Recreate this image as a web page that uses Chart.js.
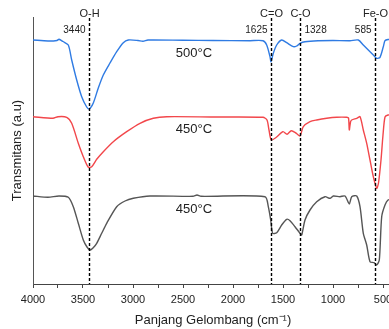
<!DOCTYPE html>
<html>
<head>
    <title>FTIR Spectra</title>
    <script src="https://cdn.jsdelivr.net/npm/chart.js"></script>
    <style>
        body { margin: 0; overflow: hidden; background: #fff; }
        #wrap { width: 400px; height: 329px; }
    </style>
</head>
<body>
    <div id="wrap"><canvas id="ftirChart" width="400" height="329"></canvas></div>
    <script>
        // wavenumbers (cm-1) and transmittance (a.u.)
        const blueWave = [4000, 3850, 3760, 3740, 3700, 3647, 3613, 3563, 3513, 3463, 3437, 3397, 3347, 3297, 3230, 3163, 3097, 3047, 2950, 2900, 2850, 2500, 2200, 1830, 1700, 1663, 1630, 1620, 1597, 1563, 1513, 1463, 1397, 1363, 1330, 1280, 1150, 1000, 830, 747, 697, 647, 597, 563, 530, 497, 480, 450, 400];
        const blueVal = [244, 243, 243.5, 244.7, 242.5, 239, 224, 204, 187.3, 177, 175, 181, 196, 209, 221, 232.3, 241.3, 244, 243.5, 242.7, 244, 243.7, 243.5, 243.3, 243.3, 239, 227.3, 222.3, 230.7, 239, 244, 241.3, 237.3, 238, 240.7, 242.3, 243.3, 243.5, 243.3, 244, 239, 234, 229, 225.7, 226.7, 237.3, 243.3, 244.5, 244.5];

        const redWave = [4000, 3800, 3750, 3663, 3613, 3547, 3497, 3447, 3413, 3363, 3297, 3197, 3063, 2930, 2797, 2663, 2200, 1700, 1660, 1640, 1617, 1567, 1500, 1460, 1417, 1367, 1330, 1297, 1230, 1163, 1063, 963, 863, 845, 837, 825, 813, 763, 730, 697, 663, 630, 597, 563, 545, 520, 500, 480, 450, 400];
        const redVal = [167.3, 165.7, 167.3, 166.7, 160.7, 140.7, 127.3, 116.7, 117.3, 124.7, 132.3, 142.3, 152.3, 160.7, 165.7, 167.3, 167, 166.7, 164, 154, 144, 146.7, 152.3, 149.7, 153.3, 150.7, 148, 157.3, 162.3, 164, 165.7, 166.7, 166.7, 166, 154, 162, 164, 165.7, 167.3, 154, 140.7, 124, 107.3, 95.7, 101, 124, 149, 167, 169, 169];

        const grayWave = [4000, 3850, 3740, 3647, 3597, 3547, 3497, 3460, 3430, 3400, 3363, 3313, 3263, 3163, 3080, 2997, 2830, 2400, 2360, 2320, 1680, 1647, 1623, 1603, 1563, 1513, 1463, 1430, 1380, 1330, 1313, 1280, 1230, 1163, 1080, 1030, 997, 930, 880, 837, 813, 763, 730, 697, 663, 630, 590, 563, 537, 513, 480, 450, 400];
        const grayVal = [88, 86.7, 88, 86.7, 77.3, 60.7, 44, 37, 34, 36, 40.7, 50.7, 60.7, 77.3, 83, 85.7, 88, 87.7, 89, 87.7, 87.3, 77.3, 64, 50.7, 51.3, 59, 64.7, 63.3, 57.3, 50.7, 49, 64, 74, 82.3, 87.3, 85.7, 88, 87.3, 88, 80, 87.3, 88, 77.3, 50.7, 39, 22.3, 21.3, 19, 24, 67.3, 79, 84, 85];

        const sampleLabels = ['500\u00B0C', '450\u00B0C', '450\u00B0C'];
        const peakWave = [3440, 1625, 1328, 585];
        const peakGroup = ['O-H', 'C=O', 'C-O', 'Fe-O'];
        const xTicks = [4000, 3500, 3000, 2500, 2000, 1500, 1000, 500];
        const xMinorTicks = [3750, 3250, 2750, 2250, 1750, 1250, 750];

        function toPoints(xs, ys) {
            return xs.map((x, i) => ({ x: x, y: ys[i] }));
        }

        // dashed peak lines, peak labels and sample names
        const annotations = {
            id: 'annotations',
            afterDatasetsDraw(chart) {
                const ctx = chart.ctx;
                const xs = chart.scales.x;
                const ys = chart.scales.y;
                const bottom = chart.chartArea.bottom;
                const side = ['left', 'left', 'right', 'left'];
                ctx.save();
                peakWave.forEach((w, i) => {
                    const px = Math.round(xs.getPixelForValue(w)) + 0.5;
                    ctx.strokeStyle = '#000';
                    ctx.lineWidth = 1.4;
                    ctx.setLineDash([3, 2]);
                    ctx.beginPath();
                    ctx.moveTo(px, 18);
                    ctx.lineTo(px, bottom);
                    ctx.stroke();
                    ctx.setLineDash([]);
                    ctx.fillStyle = '#222';
                    ctx.font = '11px "Liberation Sans", Arial, sans-serif';
                    ctx.textAlign = 'center';
                    ctx.textBaseline = 'middle';
                    ctx.fillText(peakGroup[i], px, 14);
                    ctx.font = '10px "Liberation Sans", Arial, sans-serif';
                    if (side[i] === 'left') {
                        ctx.textAlign = 'right';
                        ctx.fillText(String(w), px - 4, 30);
                    } else {
                        ctx.textAlign = 'left';
                        ctx.fillText(String(w), px + 4, 30);
                    }
                });
                // sample names under each baseline
                const labelY = [blueVal[0], redVal[0], grayVal[0]];
                ctx.font = '13px "Liberation Sans", Arial, sans-serif';
                ctx.fillStyle = '#222';
                ctx.textAlign = 'center';
                ctx.textBaseline = 'middle';
                sampleLabels.forEach((t, i) => {
                    ctx.fillText(t, xs.getPixelForValue(2390), ys.getPixelForValue(labelY[i]) + 13);
                });
                ctx.restore();
            }
        };

        const ctx = document.getElementById('ftirChart').getContext('2d');
        new Chart(ctx, {
            type: 'line',
            data: {
                datasets: [
                    {
                        label: sampleLabels[0],
                        data: toPoints(blueWave, blueVal),
                        borderColor: '#2f7be3',
                        borderWidth: 1.4,
                        pointRadius: 0,
                        tension: 0.25,
                        fill: false
                    },
                    {
                        label: sampleLabels[1],
                        data: toPoints(redWave, redVal),
                        borderColor: '#f2474b',
                        borderWidth: 1.4,
                        pointRadius: 0,
                        tension: 0.25,
                        fill: false
                    },
                    {
                        label: sampleLabels[2],
                        data: toPoints(grayWave, grayVal),
                        borderColor: '#555555',
                        borderWidth: 1.4,
                        pointRadius: 0,
                        tension: 0.25,
                        fill: false
                    }
                ]
            },
            options: {
                responsive: false,
                animation: false,
                layout: { padding: { top: 17, right: 7, bottom: 0, left: 0 } },
                plugins: {
                    legend: { display: false },
                    tooltip: { enabled: false }
                },
                scales: {
                    x: {
                        type: 'linear',
                        reverse: true,
                        min: 400,
                        max: 4000,
                        afterFit: (scale) => { scale.height = 45; },
                        afterBuildTicks: (scale) => {
                            scale.ticks = xTicks.concat(xMinorTicks)
                                .sort((a, b) => b - a)
                                .map(v => ({ value: v }));
                        },
                        border: { color: '#444', width: 1 },
                        grid: {
                            drawOnChartArea: false,
                            drawTicks: true,
                            tickLength: 4,
                            tickColor: '#444'
                        },
                        ticks: {
                            autoSkip: false,
                            maxRotation: 0,
                            padding: 5,
                            color: '#222',
                            font: { family: '"Liberation Sans", Arial, sans-serif', size: 11 },
                            callback: (v) => xTicks.includes(v) ? String(v) : ''
                        },
                        title: {
                            display: true,
                            text: 'Panjang Gelombang (cm\u207B\u00B9)',
                            color: '#222',
                            padding: { top: 0, bottom: 1 },
                            font: { family: '"Liberation Sans", Arial, sans-serif', size: 13 }
                        }
                    },
                    y: {
                        min: 0,
                        max: 267,
                        afterFit: (scale) => { scale.width = 33; },
                        border: { color: '#555', width: 1 },
                        grid: { drawOnChartArea: false, drawTicks: false },
                        ticks: { display: false },
                        title: {
                            display: true,
                            text: 'Transmitans (a.u)',
                            color: '#222',
                            padding: { top: 10, bottom: 0 },
                            font: { family: '"Liberation Sans", Arial, sans-serif', size: 13 }
                        }
                    }
                }
            },
            plugins: [annotations]
        });
    </script>
</body>
</html>
